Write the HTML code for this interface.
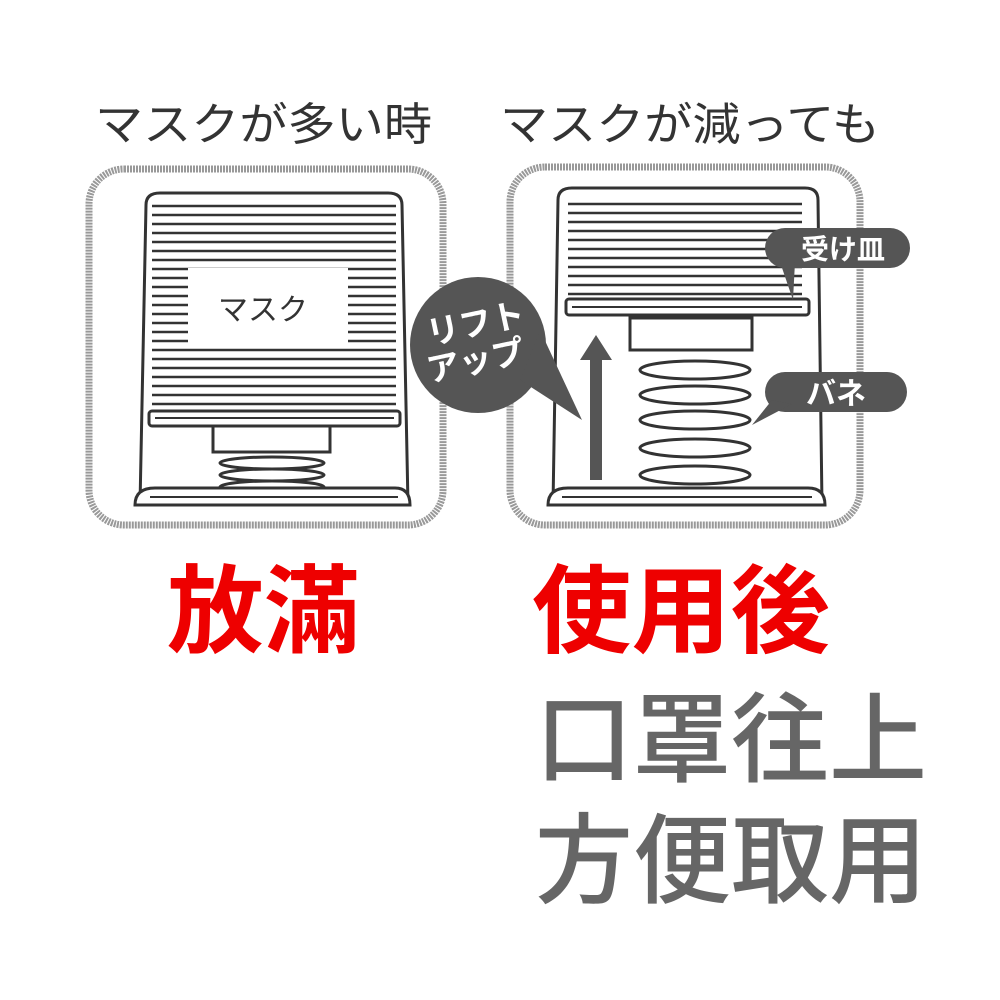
<!DOCTYPE html>
<html><head><meta charset="utf-8"><style>
html,body{margin:0;padding:0;background:#fff;}
svg{display:block;}
text{font-family:"Liberation Sans","Noto Sans CJK JP",sans-serif;}
</style></head><body>
<svg width="1000" height="1000" viewBox="0 0 1000 1000" xmlns="http://www.w3.org/2000/svg">
<!-- titles -->
<text x="95" y="140" font-size="45" fill="#333" textLength="337" lengthAdjust="spacingAndGlyphs">マスクが多い時</text>
<text x="500" y="140" font-size="45" fill="#333" textLength="380" lengthAdjust="spacingAndGlyphs">マスクが減っても</text>

<!-- LEFT PANEL -->
<rect x="89" y="169" width="354" height="356" rx="35" fill="none" stroke="#999" stroke-width="7" stroke-dasharray="2 1"/>
<path d="M140 505 L146 205 Q146 193 160 193 L388 193 Q402 193 402 205 L408 505" fill="none" stroke="#333" stroke-width="3"/>
<g stroke="#333" stroke-width="2.5">
<line x1="152" y1="206" x2="396" y2="206"/><line x1="152" y1="215" x2="396" y2="215"/>
<line x1="152" y1="224" x2="396" y2="224"/><line x1="152" y1="233" x2="396" y2="233"/>
<line x1="152" y1="242" x2="396" y2="242"/><line x1="152" y1="251" x2="396" y2="251"/>
<line x1="152" y1="260" x2="396" y2="260"/><line x1="152" y1="269" x2="396" y2="269"/>
<line x1="152" y1="278" x2="396" y2="278"/><line x1="152" y1="287" x2="396" y2="287"/>
<line x1="152" y1="296" x2="396" y2="296"/><line x1="152" y1="305" x2="396" y2="305"/>
<line x1="152" y1="314" x2="396" y2="314"/><line x1="152" y1="323" x2="396" y2="323"/>
<line x1="152" y1="332" x2="396" y2="332"/><line x1="152" y1="341" x2="396" y2="341"/>
<line x1="152" y1="350" x2="396" y2="350"/><line x1="152" y1="359" x2="396" y2="359"/>
<line x1="152" y1="368" x2="396" y2="368"/><line x1="152" y1="377" x2="396" y2="377"/>
<line x1="152" y1="386" x2="396" y2="386"/><line x1="152" y1="395" x2="396" y2="395"/>
<line x1="152" y1="404" x2="396" y2="404"/>
</g>
<rect x="188" y="268" width="160" height="76" fill="#fff"/>
<text x="218" y="320" font-size="30" fill="#333">マスク</text>
<rect x="149" y="411" width="251" height="15" rx="3" fill="#fff" stroke="#333" stroke-width="3"/>
<line x1="155" y1="418" x2="394" y2="418" stroke="#333" stroke-width="2"/>
<rect x="213" y="426" width="117" height="26" fill="#fff" stroke="#333" stroke-width="3"/>
<g fill="none" stroke="#333" stroke-width="3">
<ellipse cx="272" cy="463" rx="52" ry="6"/>
<ellipse cx="272" cy="475" rx="52" ry="6"/>
<ellipse cx="272" cy="487" rx="52" ry="6"/>
<ellipse cx="272" cy="497" rx="52" ry="6"/>
</g>
<path d="M135 505 Q135 488 155 488 L395 488 Q410 488 410 505 Z" fill="#fff" stroke="#333" stroke-width="3"/>
<line x1="150" y1="497" x2="398" y2="497" stroke="#333" stroke-width="2"/>

<!-- RIGHT PANEL -->
<rect x="510" y="167" width="350" height="358" rx="35" fill="none" stroke="#999" stroke-width="7" stroke-dasharray="2 1"/>
<path d="M553 505 L558 200 Q558 188 572 188 L805 188 Q818 188 818 200 L822 505" fill="none" stroke="#333" stroke-width="3"/>
<g stroke="#333" stroke-width="2.5">
<line x1="568" y1="204" x2="802" y2="204"/><line x1="568" y1="213" x2="802" y2="213"/>
<line x1="568" y1="222" x2="802" y2="222"/><line x1="568" y1="231" x2="802" y2="231"/>
<line x1="568" y1="240" x2="802" y2="240"/><line x1="568" y1="249" x2="802" y2="249"/>
<line x1="568" y1="258" x2="802" y2="258"/><line x1="568" y1="267" x2="802" y2="267"/>
<line x1="568" y1="276" x2="802" y2="276"/><line x1="568" y1="285" x2="802" y2="285"/>
<line x1="568" y1="294" x2="802" y2="294"/>
</g>
<rect x="566" y="299" width="243" height="16" rx="3" fill="#fff" stroke="#333" stroke-width="3"/>
<line x1="572" y1="307" x2="802" y2="307" stroke="#333" stroke-width="2"/>
<rect x="630" y="318" width="122" height="32" fill="#fff" stroke="#333" stroke-width="3"/>
<g fill="none" stroke="#333" stroke-width="3">
<ellipse cx="695" cy="370" rx="55" ry="9"/>
<ellipse cx="695" cy="395" rx="55" ry="9"/>
<ellipse cx="695" cy="420" rx="55" ry="9"/>
<ellipse cx="695" cy="448" rx="55" ry="9"/>
<ellipse cx="695" cy="475" rx="55" ry="9"/>
</g>
<path d="M548 505 Q548 488 568 488 L808 488 Q825 488 825 505 Z" fill="#fff" stroke="#333" stroke-width="3"/>
<line x1="562" y1="497" x2="812" y2="497" stroke="#333" stroke-width="2"/>
<!-- arrow -->
<path d="M590 480 L590 360 L580 360 L596 335 L612 360 L602 360 L602 480 Z" fill="#555"/>
<!-- lift up bubble -->
<circle cx="478" cy="345" r="68" fill="#555"/>
<path d="M520 380 L582 420 L540 330 Z" fill="#555"/>
<text x="478" y="335" font-size="33" font-weight="bold" fill="#fff" text-anchor="middle" transform="rotate(-12 478 335)">リフト</text>
<text x="478" y="372" font-size="33" font-weight="bold" fill="#fff" text-anchor="middle" transform="rotate(-12 478 372)">アップ</text>
<!-- 受け皿 -->
<rect x="765" y="228" width="145" height="40" rx="20" fill="#555"/>
<path d="M780 262 L795 262 L793 300 Z" fill="#555"/>
<text x="843" y="259" font-size="28" font-weight="bold" fill="#fff" text-anchor="middle">受け皿</text>
<!-- バネ -->
<rect x="765" y="372" width="142" height="40" rx="20" fill="#555"/>
<path d="M772 400 L792 404 L752 425 Z" fill="#555"/>
<text x="836" y="404" font-size="30" font-weight="bold" fill="#fff" text-anchor="middle">バネ</text>

<!-- red/gray captions -->
<text x="167" y="645" font-size="96" font-weight="bold" fill="#ee0000" textLength="193" lengthAdjust="spacingAndGlyphs">放滿</text>
<text x="532" y="645" font-size="96" font-weight="bold" fill="#ee0000" textLength="298" lengthAdjust="spacingAndGlyphs">使用後</text>
<text x="535" y="774" font-size="98" font-weight="500" fill="#666" textLength="392" lengthAdjust="spacingAndGlyphs">口罩往上</text>
<text x="535" y="895" font-size="98" font-weight="500" fill="#666" textLength="392" lengthAdjust="spacingAndGlyphs">方便取用</text>
</svg>
</body></html>
